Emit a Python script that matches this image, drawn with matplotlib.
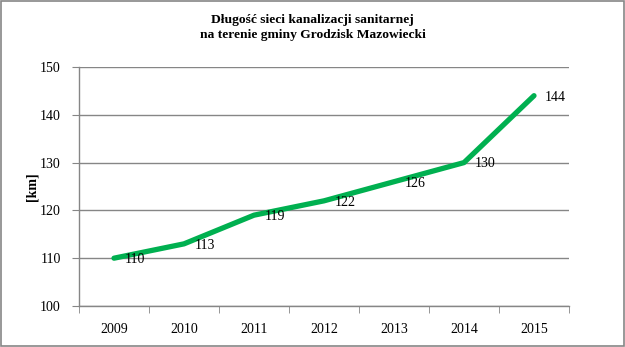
import numpy as np
import matplotlib
matplotlib.use("Agg")
import matplotlib.pyplot as plt
from matplotlib.patches import Rectangle

# Sewer network length per year
years = ["2009", "2010", "2011", "2012", "2013", "2014", "2015"]
length_km = [110, 113, 119, 122, 126, 130, 144]

plt.rcParams['font.family'] = ['Liberation Serif', 'DejaVu Serif']

fig = plt.figure(figsize=(6.25, 3.47), dpi=100)
ax = fig.add_axes([0.1264, 0.1182, 0.7840, 0.6887])

x = np.arange(len(years))
ax.plot(x, length_km, color='#00B050', linewidth=3.8, solid_capstyle='round',
        solid_joinstyle='round', zorder=3)

# value labels to the right of each point
for xi, v in zip(x, length_km):
    ax.annotate(str(v), (xi, v), xytext=(8, -1), textcoords='offset points',
                ha='left', va='center', fontsize=10, zorder=4)

ax.set_xlim(-0.5, len(years) - 0.5)
ax.set_ylim(100, 150)
ax.set_yticks(np.arange(100, 151, 10))
ax.set_xticks(x)
ax.set_xticklabels(years)
ax.set_xticks(np.arange(-0.5, len(years), 1), minor=True)
ax.tick_params(axis='x', which='major', length=0, pad=12, labelsize=10)
ax.tick_params(axis='x', which='minor', length=5, color='#868686', direction='out')
ax.tick_params(axis='y', length=5, color='#868686', direction='out', labelsize=10, pad=8)

ax.grid(axis='y', color='#868686', linewidth=1)
ax.set_axisbelow(True)
for side in ['top', 'right']:
    ax.spines[side].set_visible(False)
for side in ['left', 'bottom']:
    ax.spines[side].set_color('#868686')
    ax.spines[side].set_linewidth(1)

ax.set_ylabel('[km]', fontsize=10, fontweight='bold')
ax.yaxis.set_label_coords(-0.082, 0.5)

fig.text(0.5, 0.96, 'Długość sieci kanalizacji sanitarnej\nna terenie gminy Grodzisk Mazowiecki',
         ha='center', va='top', fontsize=9.7, fontweight='bold', linespacing=1.3)

# outer chart frame
fig.patches.append(Rectangle((0.0008, 0.0015), 0.9976, 0.997, transform=fig.transFigure,
                             fill=False, edgecolor='#868686', linewidth=1.2))

fig.savefig('out.png', dpi=100)
